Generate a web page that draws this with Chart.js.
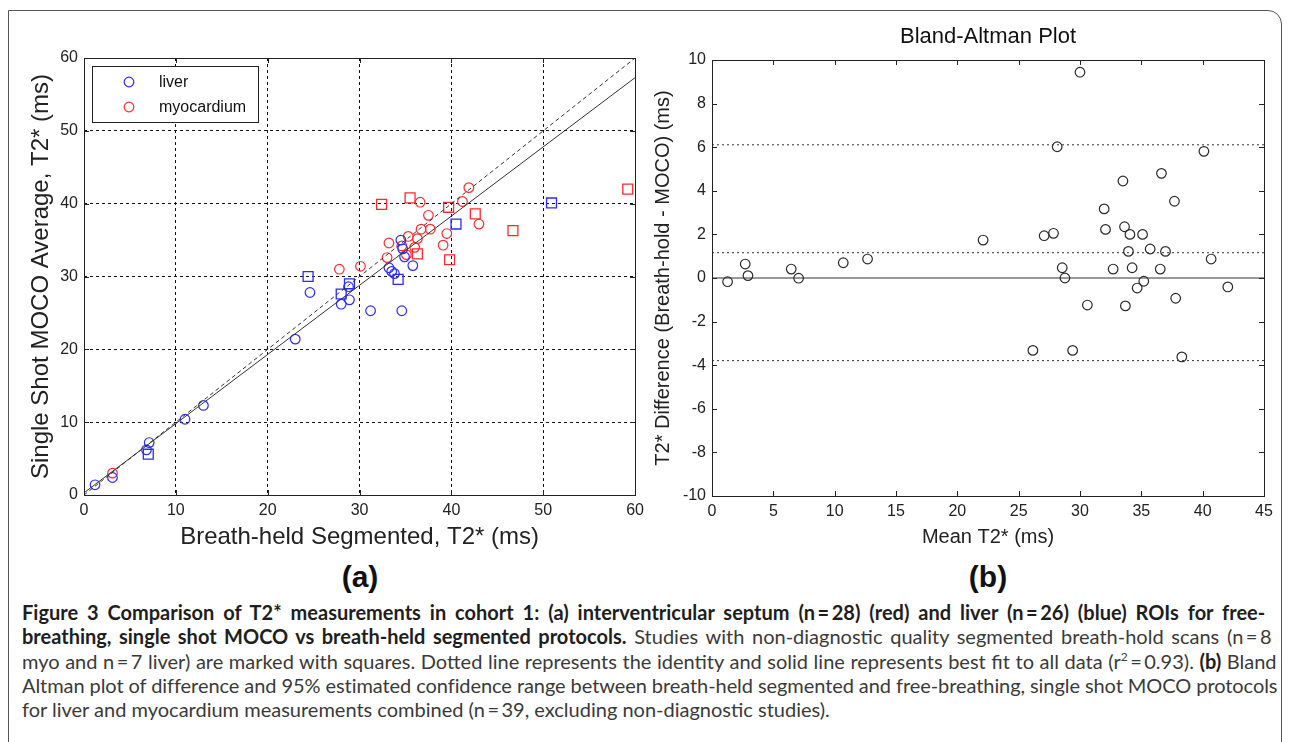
<!DOCTYPE html>
<html>
<head>
<meta charset="utf-8">
<script src="https://cdnjs.cloudflare.com/ajax/libs/Chart.js/4.4.1/chart.umd.js"></script>
<style>
    html, body { margin: 0; padding: 0; background: #fff; }
    body { width: 1290px; height: 742px; position: relative; overflow: hidden; }
    #frame {
        position: absolute; left: 8px; top: 10px; width: 1274px; height: 745px;
        border: 1.5px solid #555; border-top-right-radius: 14px; box-sizing: border-box;
    }
    canvas { position: absolute; top: 0; }
    #chart-a { left: 0; }
    #chart-b { left: 640px; }
    .panel-tag {
        position: absolute; top: 560px; width: 100px; margin-left: -50px; text-align: center;
        font: bold 30px 'Liberation Sans', Arial, sans-serif; color: #111;
    }
    #caption {
        position: absolute; left: 22px; top: 600px; width: 1400px;
        font-family: Lato, 'Noto Sans', sans-serif; font-size: 17px; line-height: 24.3px; color: #3a3a3a;
    }
    #caption .cl { white-space: nowrap; }
    #caption .cl span { white-space: nowrap; }
    #caption b { color: #1e1e1e; }
    #caption sup { font-size: 0.6em; line-height: 0; }
</style>
</head>
<body>
<div id="frame"></div>
<canvas id="chart-a" width="650" height="560"></canvas>
<canvas id="chart-b" width="650" height="560"></canvas>
<div class="panel-tag" style="left:360px;">(a)</div>
<div class="panel-tag" style="left:988px;">(b)</div>

<div id="caption">
    <!-- the bold face paints a little wider than it measures, so aim it short -->
    <div class="cl j" data-w="1243"><span><b>Figure 3 Comparison of T2* measurements in cohort 1: (a) interventricular septum (n&#8201;=&#8201;28) (red) and liver (n&#8201;=&#8201;26) (blue) ROIs for free-</b></span></div>
    <div class="cl j" data-w="1250"><span><b>breathing, single shot MOCO vs breath-held segmented protocols.</b> Studies with non-diagnostic quality segmented breath-hold scans (n&#8201;=&#8201;8</span></div>
    <div class="cl j"><span>myo and n&#8201;=&#8201;7 liver) are marked with squares. Dotted line represents the identity and solid line represents best fit to all data (r<sup>2</sup>&#8201;=&#8201;0.93). <b>(b)</b> Bland</span></div>
    <div class="cl j"><span>Altman plot of difference and 95% estimated confidence range between breath-held segmented and free-breathing, single shot MOCO protocols</span></div>
    <div class="cl" id="cap-last"><span>for liver and myocardium measurements combined (n&#8201;=&#8201;39, excluding non-diagnostic studies).</span></div>
</div>

<script>
// ---- Panel (a): breath-held segmented (x) vs single shot MOCO average (y), ms ----
const LIVER_X    = [1.2, 3.1, 6.8, 7.1, 11.0, 13.0, 23.0, 24.6, 28.0, 28.9, 28.8, 31.2, 33.2, 33.5, 33.8, 34.6, 34.5, 34.7, 34.9, 35.8];
const LIVER_Y    = [1.4, 2.4, 6.2, 7.2, 10.4, 12.3, 21.4, 27.8, 26.2, 26.8, 28.6, 25.3, 31.2, 30.7, 30.4, 25.3, 35.0, 33.8, 32.7, 31.5];
// non-diagnostic breath-hold scans (squares)
const LIVER_SQ_X = [7.0, 24.4, 28.0, 28.9, 34.2, 40.5, 50.9];
const LIVER_SQ_Y = [5.6, 30.0, 27.6, 29.0, 29.6, 37.2, 40.1];

const MYO_X    = [3.1, 27.8, 30.1, 33.0, 33.2, 34.6, 35.1, 35.3, 36.0, 36.3, 36.6, 36.7, 37.5, 37.7, 39.1, 39.5, 41.2, 41.9, 43.0];
const MYO_Y    = [3.0, 31.0, 31.4, 32.6, 34.6, 34.2, 33.0, 35.5, 34.0, 35.2, 40.2, 36.5, 38.4, 36.5, 34.3, 35.9, 40.3, 42.2, 37.2];
const MYO_SQ_X = [32.4, 35.5, 36.3, 39.7, 39.8, 42.6, 46.7, 59.2];
const MYO_SQ_Y = [39.9, 40.8, 33.1, 39.5, 32.3, 38.6, 36.3, 42.0];

const IDENTITY_X = [0, 60];
const IDENTITY_Y = [0, 60];
const FIT_X = [0, 60];
const FIT_Y = [0.3, 57.3];

const A_TICKS = [0, 10, 20, 30, 40, 50, 60];

// ---- Panel (b): Bland-Altman ----
const BA_MEAN = [1.27, 2.71, 2.93, 6.46, 7.06, 10.7, 12.68, 22.1, 30.0, 28.14, 40.1, 36.64, 33.5, 37.7, 31.97, 32.08, 33.63,
                 34.07, 35.1, 27.08, 27.84, 33.95, 35.72, 36.97, 40.69, 28.55, 32.7, 34.25, 36.54, 28.77, 35.2, 34.66, 42.05,
                 37.8, 30.6, 33.7, 26.16, 29.4, 38.3];
const BA_DIFF = [-0.17, 0.64, 0.11, 0.41, -0.01, 0.70, 0.87, 1.74, 9.44, 6.02, 5.81, 4.80, 4.45, 3.52, 3.17, 2.23, 2.35,
                 2.0, 2.0, 1.94, 2.05, 1.22, 1.33, 1.22, 0.87, 0.47, 0.41, 0.47, 0.41, 0.0, -0.15, -0.46, -0.41,
                 -0.93, -1.24, -1.28, -3.32, -3.32, -3.62];
const BA_LIMITS = [6.11, 1.16, -3.79];   // upper 95%, mean bias, lower 95%
const BA_X_RANGE = [0, 45];
const B_X_TICKS = [0, 5, 10, 15, 20, 25, 30, 35, 40, 45];
const B_Y_TICKS = [-10, -8, -6, -4, -2, 0, 2, 4, 6, 8, 10];

const FONT = "'Liberation Sans', Arial, sans-serif";
const BLUE = '#2b2bff';
const RED  = '#ff2a2a';
const INK  = '#222';

const pts = (xs, ys) => xs.map((x, i) => ({ x, y: ys[i] }));

// box round the plot area plus Matlab-style inward ticks
const frameTicks = {
    id: 'frameTicks',
    afterDraw(chart) {
        const { ctx, chartArea: a, scales: { x, y } } = chart;
        ctx.save();
        ctx.strokeStyle = INK;
        ctx.lineWidth = 1;
        ctx.strokeRect(Math.round(a.left) + 0.5, Math.round(a.top) + 0.5,
                       Math.round(a.right - a.left), Math.round(a.bottom - a.top));
        ctx.beginPath();
        x.ticks.forEach(t => {
            const px = Math.round(x.getPixelForValue(t.value)) + 0.5;
            ctx.moveTo(px, a.bottom); ctx.lineTo(px, a.bottom - 5);
            ctx.moveTo(px, a.top);    ctx.lineTo(px, a.top + 5);
        });
        y.ticks.forEach(t => {
            const py = Math.round(y.getPixelForValue(t.value)) + 0.5;
            ctx.moveTo(a.left, py);  ctx.lineTo(a.left + 5, py);
            ctx.moveTo(a.right, py); ctx.lineTo(a.right - 5, py);
        });
        ctx.stroke();
        ctx.restore();
    }
};

// legend box inside panel (a), top left
const insideLegend = {
    id: 'insideLegend',
    afterDraw(chart) {
        const { ctx } = chart;
        const items = chart.data.datasets.filter(d => d.inLegend);
        ctx.save();
        ctx.fillStyle = '#fff';
        ctx.fillRect(92, 66, 166, 56);
        ctx.strokeStyle = INK;
        ctx.lineWidth = 1;
        ctx.strokeRect(92.5, 66.5, 166, 56);
        ctx.font = '16px ' + FONT;
        ctx.textBaseline = 'middle';
        items.forEach((d, i) => {
            const cy = 82 + i * 25;
            ctx.beginPath();
            ctx.arc(129, cy, 4.8, 0, Math.PI * 2);
            ctx.strokeStyle = d.borderColor;
            ctx.lineWidth = 1.2;
            ctx.stroke();
            ctx.fillStyle = '#111';
            ctx.fillText(d.label, 159, cy + 1);
        });
        ctx.restore();
    }
};

function axis(min, max, ticks, title, opts) {
    return {
        type: 'linear', min, max,
        afterBuildTicks: s => { s.ticks = ticks.map(v => ({ value: v })); },
        afterFit: opts.fit,
        ticks: { autoSkip: false, maxRotation: 0, padding: 6, color: INK, font: { family: FONT, size: 16 } },
        grid: opts.grid
            ? { display: true, color: '#111', lineWidth: 1, drawTicks: false }
            : { display: false, drawTicks: false },
        border: { display: false, dash: [3, 3] },
        title: { display: true, text: title, color: INK, font: { family: FONT, size: opts.titleSize }, padding: opts.titlePad }
    };
}

const common = {
    responsive: false,
    animation: false,
    events: [],
    plugins: { legend: { display: false }, tooltip: { enabled: false } }
};

const circle = (data, color, label) => ({
    label, data, inLegend: !!label, pointStyle: 'circle', pointRadius: 4.8,
    borderColor: color, backgroundColor: 'rgba(0,0,0,0)', pointBorderWidth: 1.2
});
const square = (data, color) => ({
    data, pointStyle: 'rect', pointRadius: 7,
    borderColor: color, backgroundColor: 'rgba(0,0,0,0)', pointBorderWidth: 1.3
});
const line = (data, dash) => ({
    data, showLine: true, pointRadius: 0, borderColor: '#333', borderWidth: 1, borderDash: dash, fill: false
});

new Chart(document.getElementById('chart-a'), {
    type: 'scatter',
    data: {
        datasets: [
            line(pts(IDENTITY_X, IDENTITY_Y), [4, 3]),
            line(pts(FIT_X, FIT_Y), []),
            circle(pts(LIVER_X, LIVER_Y), BLUE, 'liver'),
            square(pts(LIVER_SQ_X, LIVER_SQ_Y), BLUE),
            circle(pts(MYO_X, MYO_Y), RED, 'myocardium'),
            square(pts(MYO_SQ_X, MYO_SQ_Y), RED),
        ]
    },
    options: {
        ...common,
        layout: { padding: { top: 58, right: 14, left: 0, bottom: 0 } },
        scales: {
            x: axis(0, 60, A_TICKS, 'Breath-held Segmented, T2* (ms)',
                    { grid: true, titleSize: 24, titlePad: { top: 0, bottom: 8 }, fit: s => { s.height = 65; } }),
            y: axis(0, 60, A_TICKS, 'Single Shot MOCO Average, T2* (ms)',
                    { grid: true, titleSize: 24, titlePad: { top: 27, bottom: 0 }, fit: s => { s.width = 84; } })
        }
    },
    plugins: [frameTicks, insideLegend]
});

new Chart(document.getElementById('chart-b'), {
    type: 'scatter',
    data: {
        datasets: [
            ...BA_LIMITS.map(v => line(BA_X_RANGE.map(x => ({ x, y: v })), [2, 3])),
            line(BA_X_RANGE.map(x => ({ x, y: 0 })), []),
            { ...circle(pts(BA_MEAN, BA_DIFF), '#2a2a2a'), inLegend: false }
        ]
    },
    options: {
        ...common,
        layout: { padding: { top: 0, right: 26, left: 0, bottom: 0 } },
        plugins: {
            ...common.plugins,
            title: {
                display: true, fullSize: false, text: 'Bland-Altman Plot', color: '#111',
                font: { family: FONT, size: 22, weight: 'normal' }, padding: { top: 24, bottom: 9.6 }
            }
        },
        scales: {
            x: axis(0, 45, B_X_TICKS, 'Mean T2* (ms)',
                    { grid: false, titleSize: 20, titlePad: { top: 0, bottom: 11 }, fit: s => { s.height = 64; } }),
            y: axis(-10, 10, B_Y_TICKS, 'T2* Difference (Breath-hold - MOCO) (ms)',
                    { grid: false, titleSize: 20, titlePad: { top: 11, bottom: 0 }, fit: s => { s.width = 72; } })
        }
    },
    plugins: [frameTicks]
});

// ---- caption: size to the last line, then justify the others ----
const CAP_WIDTH = 1255;
const CAP_LAST_WIDTH = 808;

function textWidth(el) {
    const r = document.createRange();
    r.selectNodeContents(el);
    return r.getBoundingClientRect().width;
}

function fitCaption() {
    const cap = document.getElementById('caption');
    const last = document.querySelector('#cap-last span');
    const cur = parseFloat(getComputedStyle(cap).fontSize);
    cap.style.fontSize = (cur * CAP_LAST_WIDTH / textWidth(last)).toFixed(2) + 'px';
    document.querySelectorAll('#caption .j').forEach(row => {
        const sp = row.querySelector('span');
        const target = +(row.dataset.w || CAP_WIDTH);
        const text = sp.textContent;
        const spaces = (text.match(/ /g) || []).length;
        sp.style.wordSpacing = '0px';
        sp.style.letterSpacing = '0px';
        let ws = 0, ls = 0;
        for (let pass = 0; pass < 3; pass++) {
            const extra = target - sp.offsetWidth;
            if (ws + extra / spaces >= 0) ws += extra / spaces;
            else ls += extra / text.length;   // too wide: tighten letters
            sp.style.wordSpacing = ws.toFixed(2) + 'px';
            sp.style.letterSpacing = ls.toFixed(3) + 'px';
        }
    });
}
fitCaption();
document.fonts.ready.then(fitCaption);
</script>
</body>
</html>
